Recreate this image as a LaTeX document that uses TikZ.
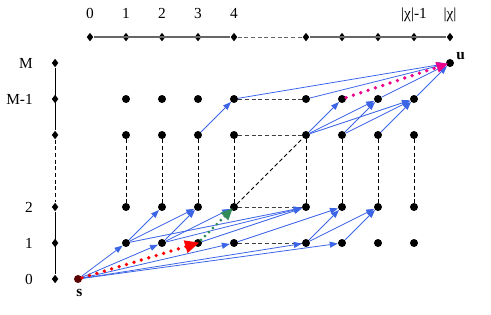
\documentclass[tikz,border=0pt]{standalone}
\usepackage{fontspec}
\setmainfont{Liberation Serif}
\usetikzlibrary{arrows.meta,positioning,shapes.geometric}

\definecolor{linkblue}{RGB}{60,100,230}
\definecolor{walkgreen}{RGB}{50,140,90}

\begin{document}
\begin{tikzpicture}[
  x=27pt,y=27pt,
  font=\fontsize{11.5}{13}\selectfont,
  notch/.style={diamond,fill=black,inner sep=0pt,minimum width=5pt,minimum height=6.5pt},
  cell/.style={circle,fill=black,inner sep=0pt,minimum size=6pt},
  lab/.style={text height=1.6ex,text depth=.4ex},
  axis/.style={line width=1.2pt,black!60},
  skip/.style={line width=.7pt,dash pattern=on 3pt off 2pt},
  link/.style={line width=.6pt,linkblue,-{Triangle[length=6pt,width=4.5pt]}},
  walk/.style={line width=2.8pt,line cap=round,dash pattern=on 0pt off 5.8pt,
    shorten >=-2pt,-{Triangle[length=9pt,width=7.5pt]}}
]
  \useasboundingbox (-2.5,-1) rectangle (11.139,7.75);

  % axes
  \foreach \i in {0,...,4,6,7,8,9,10}
    \node[notch] (x\i) at (\i,6.72) {};
  \foreach \j in {0,1,2,4,5,6}
    \node[notch] (y\j) at (-0.97,\j) {};
  \draw[axis] (x0) -- (x4);
  \draw[skip,black!60] (x4) -- (x6);
  \draw[axis] (x6) -- (x10);
  \draw[line width=.8pt] (y6) -- (y4);
  \draw[skip] (y4) -- (y2);
  \draw[line width=.8pt] (y2) -- (y0);

  \foreach \i in {0,...,4}
    \node[lab,above=5pt of x\i] (t\i) {\i};
  \node[lab,above=5pt of x9] (t9) {|χ|-1};
  \node[lab,above=5pt of x10] (t10) {|χ|};
  \node[left=10.5pt of y6] (m6) {M};
  \node[left=10.5pt of y5] (m5) {M-1};
  \node[left=10.5pt of y2] (m2) {2};
  \node[left=10.5pt of y1] (m1) {1};
  \node[left=10.5pt of y0] (m0) {0};

  % states
  \foreach \i in {1,2,3,4,6,7,8,9}
    \foreach \j in {1,2,4,5}
      \node[cell] (v\i\j) at (\i,\j) {};
  \node[cell,fill=black!65!red] (s) at (-0.333,0) {};
  \node[cell] (u) at (10,6) {};
  \node[below=1pt of s,xshift=1pt,font=\fontsize{11.5}{13}\selectfont\bfseries] (sl) {s};
  \node[above right=-3pt and -1pt of u,font=\fontsize{11.5}{13}\selectfont\bfseries] (ul) {u};

  % skipped columns and levels
  \foreach \j in {1,2,4,5}
    \draw[skip,black!75] (v4\j) -- (v6\j);
  \foreach \i in {1,2,3,4,6,7,8,9}
    \draw[skip] (v\i4) -- (v\i2);
  \draw[skip] (v42) -- (v64);

  % transitions
  \foreach \a/\b in {s/v11,s/v21,s/v41,s/v61,s/v71,
      v11/v22,v11/v32,v21/v32,v21/v42,v11/v62,v21/v62,v31/v62,
      v41/v72,v61/v72,v61/v82,v71/v82,
      v34/v45,v64/v75,v64/v85,v64/v95,v74/v85,v74/v95,v84/v95,
      v45/u,v65/u,v85/u,v95/u}
    \draw[link] (\a) -- (\b);

  % chosen path
  \draw[walk,red,shorten >=-4.5pt,-{Triangle[length=11pt,width=9pt]}] (s) -- (v31);
  \draw[walk,walkgreen,line width=2.3pt,dash pattern=on 0pt off 4.2pt] (v31) -- (v42);
  \draw[walk,magenta] (v75) -- (u);
\end{tikzpicture}
\end{document}
